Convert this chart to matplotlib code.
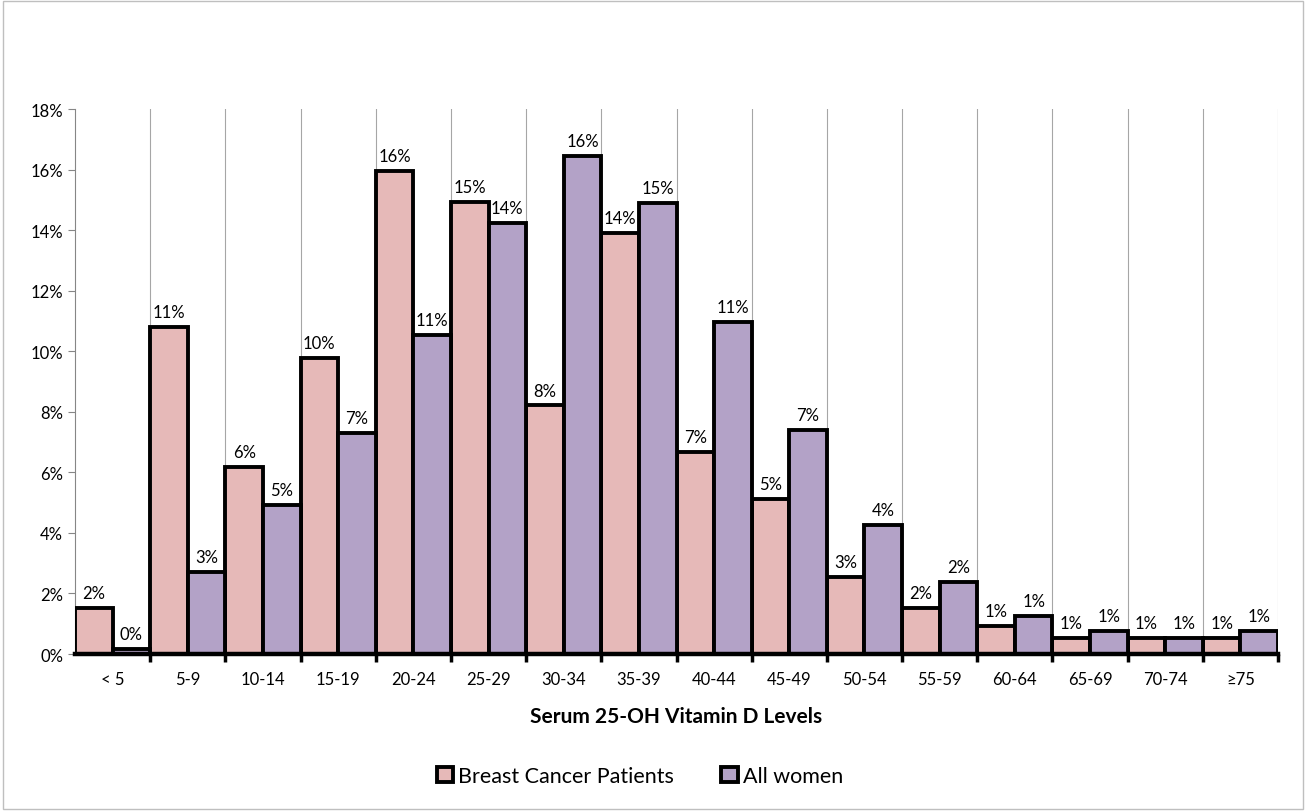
import numpy as np
import matplotlib.pyplot as plt
from matplotlib.patches import Rectangle

plt.rcParams['font.family'] = ['Lato', 'DejaVu Sans']

# данные
categories = ['< 5', '5-9', '10-14', '15-19', '20-24', '25-29', '30-34', '35-39',
              '40-44', '45-49', '50-54', '55-59', '60-64', '65-69', '70-74', '≥75']
patients = [1.52, 10.81, 6.17, 9.78, 15.96, 14.93, 8.21, 13.9,
            6.67, 5.12, 2.55, 1.52, 0.94, 0.52, 0.52, 0.52]
all_women = [0.18, 2.72, 4.92, 7.31, 10.53, 14.23, 16.45, 14.9,
             10.98, 7.39, 4.26, 2.37, 1.27, 0.76, 0.52, 0.76]

pink = '#E6B9B8'
purple = '#B3A2C7'

fig = plt.figure(figsize=(13.06, 8.12), dpi=100)
ax = fig.add_axes([0.0574, 0.1933, 0.9212, 0.6712])

x = np.arange(len(categories))
b1 = ax.bar(x - 0.25, patients, width=0.5, color=pink, edgecolor='black',
            linewidth=2.8, zorder=3, label='Breast Cancer Patients')
b2 = ax.bar(x + 0.25, all_women, width=0.5, color=purple, edgecolor='black',
            linewidth=2.8, zorder=3, label='All women')

for bars, vals in ((b1, patients), (b2, all_women)):
    for r, v in zip(bars, vals):
        ax.annotate(f'{v:.0f}%', (r.get_x() + r.get_width() / 2, v),
                    xytext=(0, 5), textcoords='offset points',
                    ha='center', va='bottom', fontsize=12, zorder=4)

ax.set_xlim(-0.5, len(categories) - 0.5)
ax.set_ylim(0, 18)
ax.set_yticks(np.arange(0, 19, 2))
ax.set_yticklabels([f'{t}%' for t in range(0, 19, 2)], fontsize=12)
ax.set_xticks(x)
ax.set_xticklabels(categories, fontsize=12)
ax.tick_params(axis='x', which='major', length=0, pad=12)
ax.set_xticks(np.arange(0.5, len(categories)), minor=True)
ax.tick_params(axis='x', which='minor', length=6, width=2.5, color='black')
ax.tick_params(axis='y', length=5, color='#868686', width=0.8)
ax.grid(axis='x', which='minor', color='#A6A6A6', linewidth=0.8, zorder=0)

for s in ('top', 'right'):
    ax.spines[s].set_visible(False)
ax.spines['left'].set_color('#868686')
ax.spines['left'].set_linewidth(0.8)
ax.spines['bottom'].set_linewidth(3.2)
ax.spines['bottom'].set_color('black')
ax.spines['bottom'].set_zorder(5)

ax.set_xlabel('Serum 25-OH Vitamin D Levels', fontsize=15, fontweight='bold', labelpad=14)

fig.legend(handles=[b1, b2], loc='center', bbox_to_anchor=(0.49, 0.043), ncol=2,
           frameon=False, fontsize=15.5, handlelength=0.75, handleheight=0.75,
           handletextpad=0.25, columnspacing=2.2)

fig.add_artist(Rectangle((0.002, 0.003), 0.996, 0.994, transform=fig.transFigure,
                         fill=False, edgecolor='#BFBFBF', linewidth=1))

fig.savefig('out.png', dpi=100)
